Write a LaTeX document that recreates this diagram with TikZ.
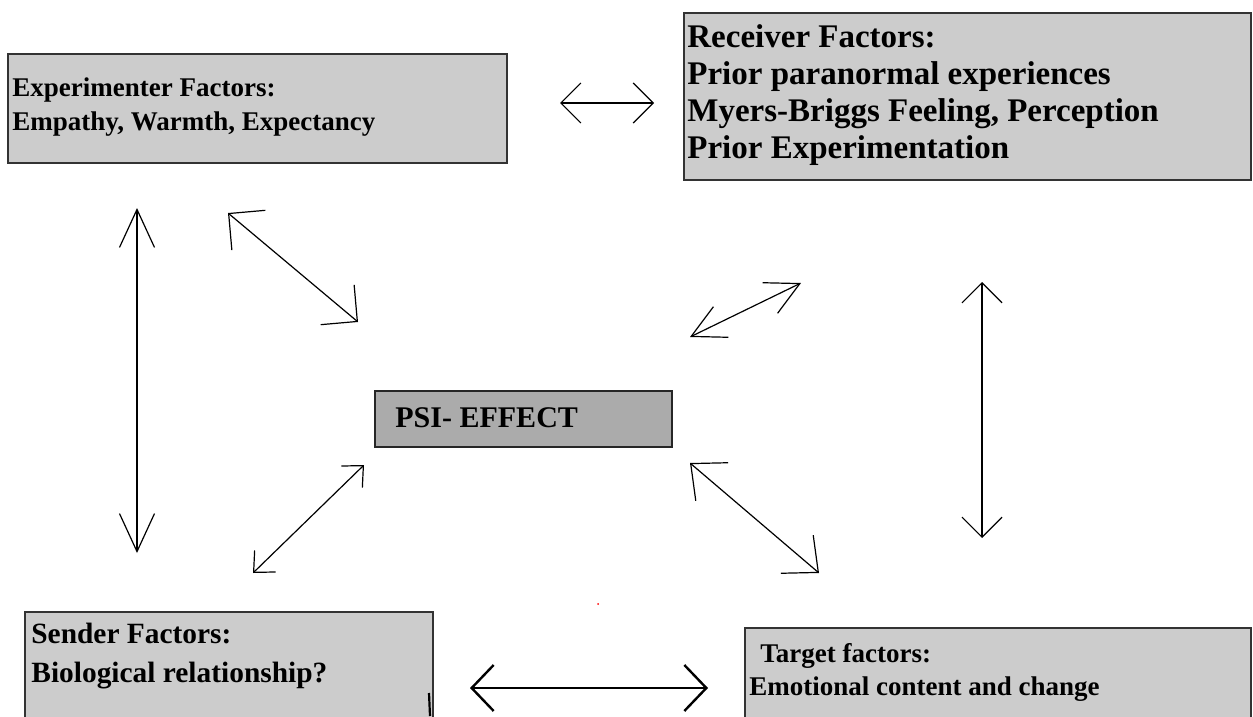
\documentclass[tikz,border=0pt]{standalone}
\usepackage{fontspec}
\setmainfont{Liberation Serif}
\usetikzlibrary{arrows.meta,fit}
\tikzset{
  factorbox/.style={draw=black!80, fill=black!20, line width=0.6pt, inner sep=0pt},
  effectbox/.style={draw=black!85, fill=black!33, line width=0.6pt, inner sep=0pt},
  factortext/.style={anchor=north west, inner sep=0pt, align=left},
  link/.style={line width=0.6pt},
}
\begin{document}
\begin{tikzpicture}[x=0.5pt, y=-0.5pt]
\useasboundingbox (0,0) rectangle (1253,717);
\clip (0,0) rectangle (1253,717);

% boxes
\node[factorbox, fit={(8,54) (507,163)}] (exper) {};
\node[factorbox, fit={(684,13) (1251,180)}] (recv) {};
\node[effectbox, fit={(375,391) (672,447)}] (psi) {};
\node[factorbox, fit={(25,612) (433,740)}] (send) {};
\node[factorbox, fit={(745,628) (1251,740)}] (targ) {};

% texts
\node[factortext, font={\bfseries\fontsize{13.5}{17}\selectfont}] (expertext) at (12,77) {Experimenter Factors:\\Empathy, Warmth, Expectancy};
\node[factortext, font={\bfseries\fontsize{16.5}{18.5}\selectfont}] (recvtext) at (687,24) {Receiver Factors:\\Prior paranormal experiences\\Myers-Briggs Feeling, Perception\\Prior Experimentation};
\node[factortext, font={\bfseries\fontsize{15}{18}\selectfont}] (psitext) at (395,407) {PSI- EFFECT};
\node[factortext, font={\bfseries\fontsize{14.7}{19.5}\selectfont}] (sendtext) at (31,623) {Sender Factors:\\Biological relationship?};
\node[factortext, font={\bfseries\fontsize{13.5}{16.5}\selectfont}] (targtext) at (749,643) {\hspace*{5.5pt}Target factors:\\Emotional content and change};

% free ends of the arrows
\coordinate (er1) at (560,103);  \coordinate (er2) at (654,103);
\coordinate (es1) at (137,208);  \coordinate (es2) at (137,553);
\coordinate (ep1) at (228,213);  \coordinate (ep2) at (358,322);
\coordinate (pr1) at (690,337);  \coordinate (pr2) at (801,283);
\coordinate (sp1) at (364,465);  \coordinate (sp2) at (253,573);
\coordinate (pt1) at (690,463);  \coordinate (pt2) at (819,573);
\coordinate (rt1) at (982,282);  \coordinate (rt2) at (982,538);
\coordinate (st1) at (470,688);  \coordinate (st2) at (708,688);

\draw[link, {Straight Barb[length=10pt,width=20pt]}-{Straight Barb[length=10pt,width=20pt]}] (er1) -- (er2);
\draw[link, {Straight Barb[length=19pt,width=17.5pt]}-{Straight Barb[length=19pt,width=17.5pt]}] (es1) -- (es2);
\draw[link, {Straight Barb[length=13pt,width=26pt]}-{Straight Barb[length=13pt,width=26pt]}] (ep1) -- (ep2);
\draw[link, {Straight Barb[length=16.5pt,width=17pt]}-{Straight Barb[length=16.5pt,width=17pt]}] (pr1) -- (pr2);
\draw[link, {Straight Barb[length=8pt,width=15pt]}-{Straight Barb[length=8pt,width=15pt]}] (sp1) -- (sp2);
\draw[link, {Straight Barb[length=14pt,width=25pt]}-{Straight Barb[length=14pt,width=25pt]}] (pt1) -- (pt2);
\draw[link, {Straight Barb[length=10pt,width=20pt]}-{Straight Barb[length=10pt,width=20pt]}] (rt1) -- (rt2);
\draw[line width=1.2pt, {Straight Barb[length=11pt,width=23pt]}-{Straight Barb[length=11pt,width=23pt]}] (st1) -- (st2);

% stray marks
\draw[line width=1.1pt] (429,693) -- (430,716);
\fill[red] (598,604) circle (1);
\end{tikzpicture}
\end{document}
